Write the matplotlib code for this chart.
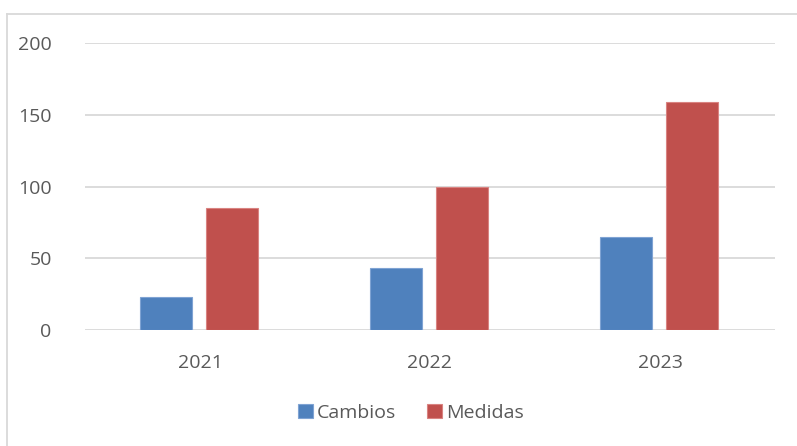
import matplotlib.pyplot as plt
from matplotlib.lines import Line2D
import numpy as np

years = ['2021', '2022', '2023']
cambios = [23, 43, 65]
medidas = [85, 100, 159]

blue = '#4F81BD'
red = '#C0504D'
grid = '#D9D9D9'
txt = '#595959'

plt.rcParams['font.family'] = ['Open Sans', 'DejaVu Sans']

fig = plt.figure(figsize=(7.97, 4.46), dpi=100)
ax = fig.add_axes([85/797, 1-330/446, 690/797, 287/446])

x = np.arange(len(years))
w = 0.226
off = 0.1435
ax.bar(x - off - 0.004, cambios, w, color=blue, edgecolor='#7FA3D3', linewidth=0.8, label='Cambios', zorder=3)
ax.bar(x + off - 0.004, medidas, w, color=red, edgecolor='#D98381', linewidth=0.8, label='Medidas', zorder=3)

ax.set_xlim(-0.5, 2.5)
ax.set_ylim(0, 200)
ax.set_yticks([0, 50, 100, 150, 200])
ax.set_xticks(x)
ax.set_xticklabels(years)
ax.yaxis.grid(True, color=grid, linewidth=1.3, zorder=0)
for s in ax.spines.values():
    s.set_visible(False)
ax.tick_params(axis='both', length=0, labelsize=14, labelcolor=txt)
ax.tick_params(axis='y', pad=24)
ax.tick_params(axis='x', pad=17)

ax.legend(loc='center', bbox_to_anchor=(411/797, 1-413/446), bbox_transform=fig.transFigure,
          ncol=2, frameon=False, fontsize=14, labelcolor=txt, handlelength=0.75, handleheight=0.75,
          handletextpad=0.2, columnspacing=1.6)

# chart border (left and top)
fig.add_artist(Line2D([7/797, 7/797], [0, 1-14/446], color=grid, linewidth=1.3))
fig.add_artist(Line2D([7/797, 1], [1-14/446, 1-14/446], color=grid, linewidth=1.3))

fig.savefig('out.png', dpi=100)
